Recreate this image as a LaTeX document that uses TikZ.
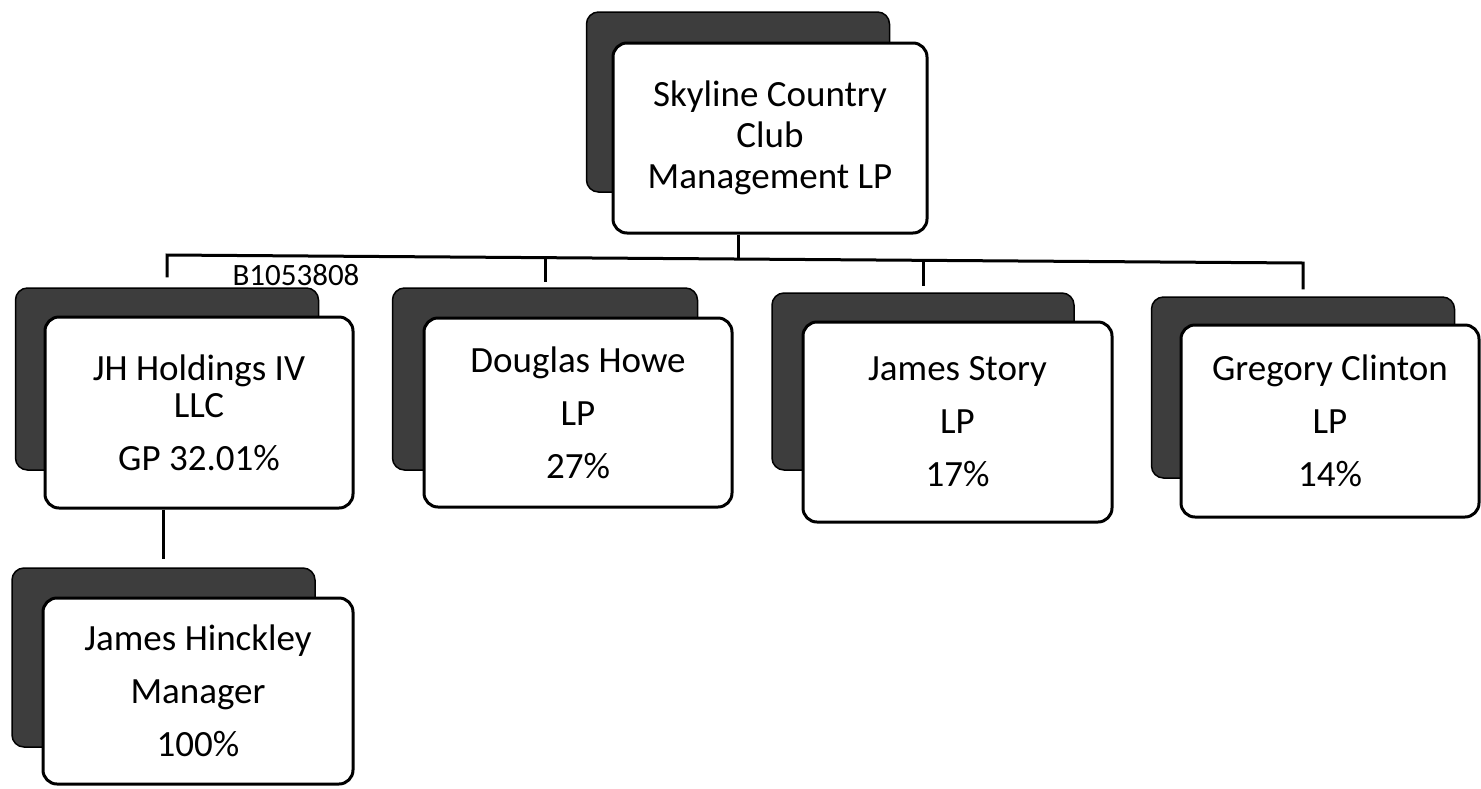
\documentclass[tikz,border=0pt]{standalone}
\usepackage{fontspec}
\setmainfont{Carlito}
\usetikzlibrary{calc}
\newcommand{\orgfont}{\fontsize{37}{41}\selectfont}
\begin{document}
\begin{tikzpicture}[x=1pt,y=-1pt,
  shadowbox/.style={draw=black, line width=1.5pt, fill=black!76, rounded corners=12pt, inner sep=0pt},
  frontbox/.style={draw=black, line width=3pt, fill=white, rounded corners=14pt, inner sep=0pt, align=center, font=\orgfont},
  conn/.style={draw=black, line width=3pt},
  codelabel/.style={font=\fontsize{31}{31}\selectfont, inner sep=0pt}
]
\useasboundingbox[fill=white] (0,0) rectangle (1481,788);

% top box
\node[shadowbox, minimum width=303pt, minimum height=180pt] (topS) at (738,102) {};
\node[frontbox, minimum width=314pt, minimum height=190pt] (top) at (770,138) {Skyline Country\\Club\\Management LP};

% second row
\node[shadowbox, minimum width=303pt, minimum height=182pt] (jhS) at (167,379) {};
\node[frontbox, minimum width=308pt, minimum height=191pt] (jh) at (199,412.5) {JH Holdings IV\\[-4pt]LLC\\[12pt]GP 32.01\%};

\node[shadowbox, minimum width=305pt, minimum height=182pt] (dhS) at (545,379) {};
\node[frontbox, minimum width=308pt, minimum height=189pt] (dh) at (578,412.5) {Douglas Howe\\[12pt]LP\\[12pt]27\%};

\node[shadowbox, minimum width=302pt, minimum height=177pt] (jsS) at (923,381.5) {};
\node[frontbox, minimum width=309pt, minimum height=200pt] (js) at (957.5,422) {James Story\\[12pt]LP\\[12pt]17\%};

\node[shadowbox, minimum width=303pt, minimum height=181pt] (gcS) at (1303,387.5) {};
\node[frontbox, minimum width=298pt, minimum height=192pt] (gc) at (1330,421) {Gregory Clinton\\[12pt]LP\\[12pt]14\%};

% third row
\node[shadowbox, minimum width=303pt, minimum height=179pt] (hkS) at (163.5,657.5) {};
\node[frontbox, minimum width=310pt, minimum height=186pt] (hk) at (198,691) {James Hinckley\\[12pt]Manager\\[12pt]100\%};

% handwritten code
\node[codelabel] (code) at (296,275) {B1053808};

% connectors
\coordinate (jJH) at (167,255);
\coordinate (jDH) at (545,257.7);
\coordinate (jTop) at (738,259);
\coordinate (jJS) at (923,260.3);
\coordinate (jGC) at (1303,263);

\draw[conn, line join=miter] ($(jhS.north)+(0,-10)$) -- (jJH) -- (jGC) -- ($(gcS.north)+(0,-7)$);
\draw[conn] (top.south -| topS.south) -- (jTop);
\draw[conn, shorten >=5pt] (jDH) -- (dhS.north);
\draw[conn, shorten >=6pt] (jJS) -- (jsS.north);
\draw[conn, shorten >=8pt] (jh.south -| hkS.north) -- (hkS.north);
\end{tikzpicture}
\end{document}
